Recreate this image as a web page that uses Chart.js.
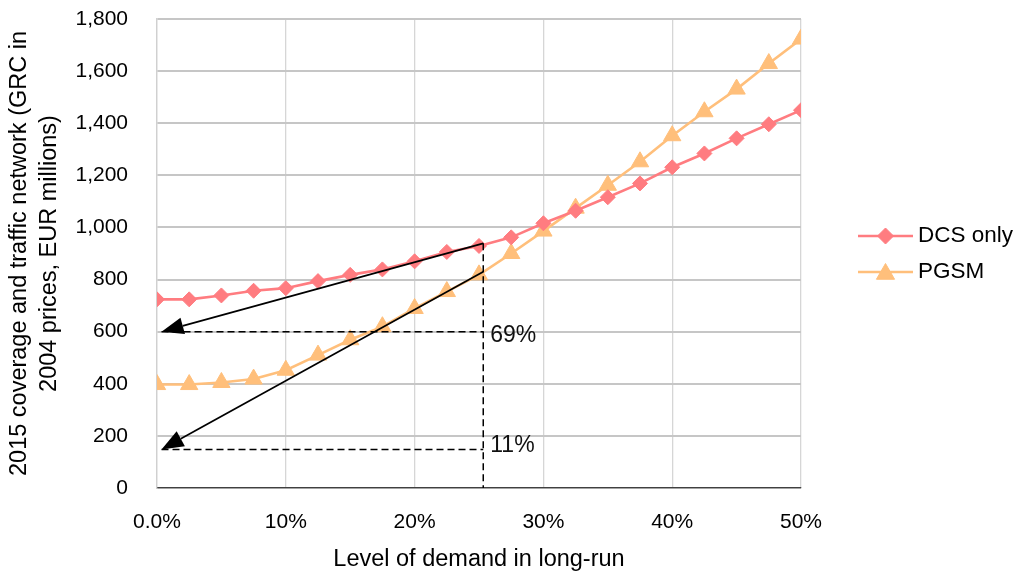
<!DOCTYPE html>
<html>
<head>
<meta charset="utf-8">
<script src="https://cdn.jsdelivr.net/npm/chart.js@4/dist/chart.umd.min.js"></script>
<style>
  html, body { margin: 0; padding: 0; background: #ffffff; }
  #wrap { width: 1023px; height: 576px; }
</style>
</head>
<body>
<div id="wrap"><canvas id="chart" width="1023" height="576"></canvas></div>
<script>
// Level of demand in the long run (%), one point every 2.5%
const demandLevels = [0, 2.5, 5, 7.5, 10, 12.5, 15, 17.5, 20, 22.5, 25,
                      27.5, 30, 32.5, 35, 37.5, 40, 42.5, 45, 47.5, 50];

// 2015 coverage and traffic network cost, EUR millions (2004 prices)
const dcsOnly = [724, 724, 739, 757, 767, 794, 818, 839, 870, 906, 929,
                 962, 1016, 1064, 1116, 1169, 1231, 1284, 1342, 1396, 1450];
const pgsm = [397, 397, 405, 418, 452, 510, 569, 619, 689, 754, 818,
              900, 986, 1074, 1162, 1252, 1352, 1444, 1531, 1629, 1723];

const seriesNames = ['DCS only', 'PGSM'];
const xTickLabels = ['0.0%', '10%', '20%', '30%', '40%', '50%'];
const yTitleLines = ['2015 coverage and traffic network (GRC in', '2004 prices, EUR millions)'];
const xTitle = 'Level of demand in long-run';

// Tangent arrows: [fromX, fromY, toX, toY] in data units
const arrows = [[25.33, 939, 0.35, 600], [25.33, 830, 0.35, 148]];
// Dashed guide lines: [x1, y1, x2, y2] in data units
const guides = [[0.35, 600, 25.33, 600], [0.35, 148, 25.33, 148], [25.33, 939, 25.33, 0]];
// Share labels next to the guides: [x, y, text]
const shareLabels = [[25.33, 585, '69%'], [25.33, 164, '11%']];

const FONT = "'Liberation Sans', Arial, Helvetica, sans-serif";
const colDcs = '#ff7c80';
const colPgsm = '#ffbf7b';

const toPoints = (vals) => demandLevels.map((x, i) => ({ x: x, y: vals[i] }));

const annotationPlugin = {
  id: 'tangentAnnotations',
  afterDatasetsDraw(chart) {
    const { ctx, scales: { x, y } } = chart;
    ctx.save();
    ctx.strokeStyle = '#000000';
    ctx.fillStyle = '#000000';
    // dashed guides
    ctx.lineWidth = 1.5;
    ctx.setLineDash([7, 4]);
    guides.forEach(g => {
      ctx.beginPath();
      ctx.moveTo(x.getPixelForValue(g[0]), y.getPixelForValue(g[1]));
      ctx.lineTo(x.getPixelForValue(g[2]), y.getPixelForValue(g[3]));
      ctx.stroke();
    });
    ctx.setLineDash([]);
    // arrows
    arrows.forEach(a => {
      const x1 = x.getPixelForValue(a[0]), y1 = y.getPixelForValue(a[1]);
      const x2 = x.getPixelForValue(a[2]), y2 = y.getPixelForValue(a[3]);
      const ang = Math.atan2(y2 - y1, x2 - x1);
      const len = 22, half = 8.5;
      const bx = x2 - Math.cos(ang) * len, by = y2 - Math.sin(ang) * len;
      ctx.lineWidth = 1.7;
      ctx.beginPath();
      ctx.moveTo(x1, y1);
      ctx.lineTo(bx, by);
      ctx.stroke();
      ctx.beginPath();
      ctx.moveTo(x2, y2);
      ctx.lineTo(bx + Math.sin(ang) * half, by - Math.cos(ang) * half);
      ctx.lineTo(bx - Math.sin(ang) * half, by + Math.cos(ang) * half);
      ctx.closePath();
      ctx.fill();
    });
    // labels
    ctx.font = '23px ' + FONT;
    ctx.textAlign = 'left';
    ctx.textBaseline = 'middle';
    ctx.fillStyle = '#111111';
    shareLabels.forEach(l => {
      ctx.fillText(l[2], x.getPixelForValue(l[0]) + 7, y.getPixelForValue(l[1]));
    });
    ctx.restore();
  }
};

const legendPlugin = {
  id: 'lineMarkerLegend',
  afterDraw(chart) {
    const { ctx } = chart;
    const lx = 858, lineLen = 55, rowY = [236, 272];
    ctx.save();
    chart.data.datasets.forEach((ds, i) => {
      const yy = rowY[i];
      ctx.strokeStyle = ds.borderColor;
      ctx.lineWidth = ds.borderWidth;
      ctx.beginPath();
      ctx.moveTo(lx, yy);
      ctx.lineTo(lx + lineLen, yy);
      ctx.stroke();
      ctx.fillStyle = ds.pointBackgroundColor;
      ctx.strokeStyle = ds.pointBorderColor;
      ctx.lineWidth = 1;
      Chart.helpers.drawPoint(ctx, {
        pointStyle: ds.pointStyle, radius: ds.pointRadius + 0.5, rotation: 0, borderWidth: 1
      }, lx + lineLen / 2, ds.pointStyle === 'triangle' ? yy + 2 : yy);
      ctx.fillStyle = '#000000';
      ctx.font = '22.5px ' + FONT;
      ctx.textAlign = 'left';
      ctx.textBaseline = 'middle';
      ctx.fillText(ds.label, lx + lineLen + 5, yy);
    });
    ctx.restore();
  }
};

new Chart(document.getElementById('chart'), {
  type: 'line',
  data: {
    datasets: [
      {
        label: seriesNames[0],
        data: toPoints(dcsOnly),
        borderColor: colDcs,
        backgroundColor: colDcs,
        pointBackgroundColor: colDcs,
        pointBorderColor: colDcs,
        borderWidth: 2.6,
        pointStyle: 'rectRot',
        pointRadius: 7.5,
        pointBorderWidth: 1,
        tension: 0
      },
      {
        label: seriesNames[1],
        data: toPoints(pgsm),
        borderColor: colPgsm,
        backgroundColor: colPgsm,
        pointBackgroundColor: colPgsm,
        pointBorderColor: colPgsm,
        borderWidth: 2.6,
        pointStyle: 'triangle',
        pointRadius: 10,
        pointBorderWidth: 1,
        tension: 0
      }
    ]
  },
  options: {
    responsive: false,
    animation: false,
    events: [],
    layout: { padding: { top: 19, right: 222, bottom: 0, left: 0 } },
    plugins: {
      legend: { display: false },
      tooltip: { enabled: false }
    },
    scales: {
      x: {
        type: 'linear',
        min: 0,
        max: 50,
        afterFit: (axis) => { axis.height = 88; axis.paddingLeft = 10; axis.paddingRight = 10; },
        afterBuildTicks: (axis) => { axis.ticks = xTickLabels.map((_, i) => ({ value: i * 10 })); },
        ticks: {
          padding: 22,
          color: '#000000',
          font: { family: FONT, size: 21 },
          maxRotation: 0,
          callback: (v, i) => xTickLabels[i]
        },
        grid: { color: '#d6d6d6', lineWidth: 1.3, drawTicks: false },
        border: { color: '#404040', width: 1.2 },
        title: {
          display: true,
          text: xTitle,
          color: '#000000',
          font: { family: FONT, size: 23.5 },
          padding: { top: 0, bottom: 2 }
        }
      },
      y: {
        min: 0,
        max: 1800,
        afterFit: (axis) => { axis.width = 157; axis.paddingTop = 10; axis.paddingBottom = 10; },
        ticks: {
          stepSize: 200,
          padding: 29,
          color: '#000000',
          font: { family: FONT, size: 21 },
          callback: (v) => v.toLocaleString('en-US')
        },
        grid: { color: '#c6c6c6', lineWidth: 2, drawTicks: false },
        border: { color: '#d0d0d0', width: 1.3 },
        title: {
          display: true,
          text: yTitleLines,
          color: '#000000',
          font: { family: FONT, size: 23.5, lineHeight: 1.25 },
          padding: { top: 5, bottom: 0 }
        }
      }
    }
  },
  plugins: [annotationPlugin, legendPlugin]
});
</script>
</body>
</html>
